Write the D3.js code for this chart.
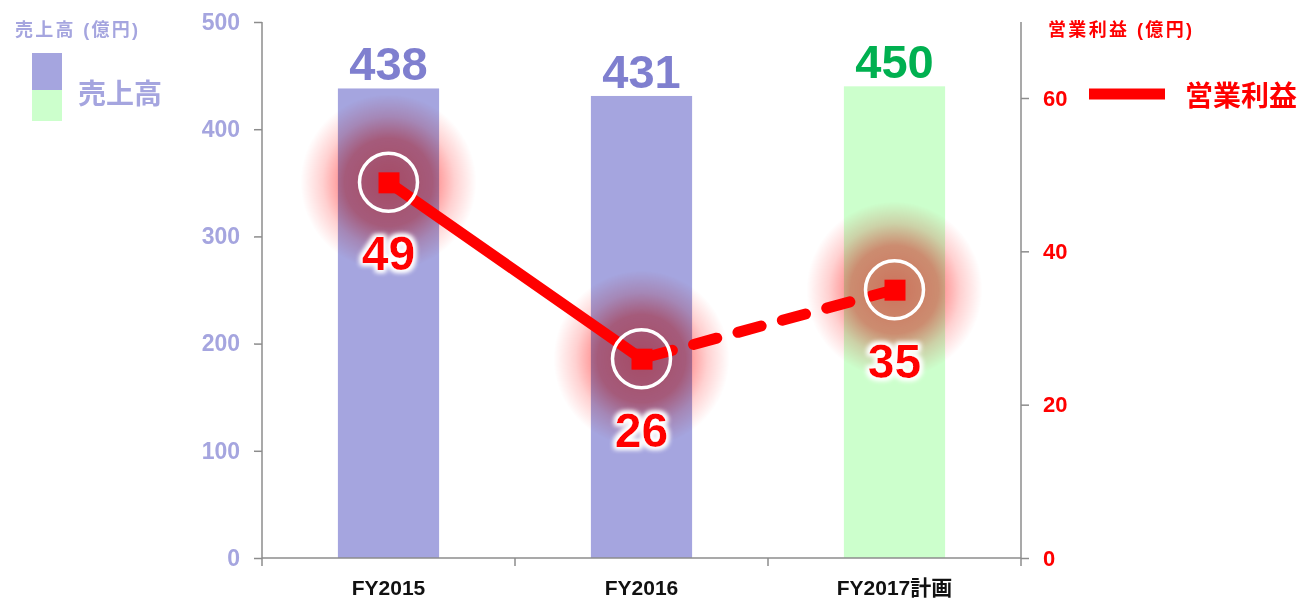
<!DOCTYPE html>
<html><head><meta charset="utf-8">
<script src="https://cdn.jsdelivr.net/npm/d3@7"></script>
<style>body{margin:0;background:#fff;}svg{display:block;font-family:Arial,"Liberation Sans","Noto Sans CJK JP",sans-serif;}</style>
</head><body><svg id="c" width="1297" height="599"></svg>
<script>
const categories = ["FY2015", "FY2016", "FY2017計画"];
const salesValues = [438, 431, 440];
const salesLabels = ["438", "431", "450"];
const profitValues = [49, 26, 35];
const leftTicks = [0, 100, 200, 300, 400, 500];
const rightTicks = [0, 20, 40, 60];

const svg = d3.select("#c");
const x0 = 262, x1 = 1021, yTop = 22, yBot = 558;
const x = d3.scaleBand().domain(categories).range([x0, x1]).paddingInner(0.6).paddingOuter(0.3);
const xc = d => x(d) + x.bandwidth() / 2;
const yL = d3.scaleLinear().domain([0, 500]).range([yBot, yTop]);
const yR = d3.scaleLinear().domain([0, 70]).range([yBot, yBot - 70 * (460 / 60)]);

const purple = "#a5a5df", green = "#ccffcc", red = "#ff0000";
const barColors = [purple, purple, green];
const labelColors = ["#7f7fcf", "#7f7fcf", "#00b050"];

const defs = svg.append("defs");
const rg = defs.append("radialGradient").attr("id", "glow");
rg.append("stop").attr("offset", "0%").attr("stop-color", red).attr("stop-opacity", 0.55);
rg.append("stop").attr("offset", "50%").attr("stop-color", red).attr("stop-opacity", 0.45);
rg.append("stop").attr("offset", "75%").attr("stop-color", red).attr("stop-opacity", 0.18);
rg.append("stop").attr("offset", "100%").attr("stop-color", red).attr("stop-opacity", 0);
const f = defs.append("filter").attr("id", "wglow").attr("x", "-30%").attr("y", "-30%").attr("width", "160%").attr("height", "160%");
f.append("feMorphology").attr("in", "SourceAlpha").attr("operator", "dilate").attr("radius", 2).attr("result", "d");
f.append("feGaussianBlur").attr("in", "d").attr("stdDeviation", 2.5).attr("result", "b");
f.append("feFlood").attr("flood-color", "#fff");
f.append("feComposite").attr("in2", "b").attr("operator", "in").attr("result", "w");
const m = f.append("feMerge");
m.append("feMergeNode").attr("in", "w");
m.append("feMergeNode").attr("in", "w");
m.append("feMergeNode").attr("in", "SourceGraphic");

// bars
svg.selectAll("rect.bar").data(categories).join("rect").attr("class", "bar")
  .attr("x", d => x(d)).attr("width", x.bandwidth())
  .attr("y", (d, i) => yL(salesValues[i])).attr("height", (d, i) => yBot - yL(salesValues[i]))
  .attr("fill", (d, i) => barColors[i]);

// bar labels
svg.selectAll("text.bl").data(categories).join("text").attr("class", "bl")
  .attr("x", xc).attr("y", (d, i) => yL(salesValues[i]) - 8)
  .attr("text-anchor", "middle").attr("font-size", 47).attr("font-weight", "bold")
  .attr("fill", (d, i) => labelColors[i]).text((d, i) => salesLabels[i]);

// left axis
const gL = svg.append("g").attr("transform", `translate(${x0},0)`)
  .call(d3.axisLeft(yL).tickValues(leftTicks).tickSize(8).tickPadding(14));
gL.select(".domain").attr("stroke", "#8c8c8c").attr("stroke-width", 1.5).attr("d", `M-0,${yTop}H0V${yBot}`);
gL.selectAll(".tick line").attr("stroke", "#8c8c8c").attr("stroke-width", 1.5);
gL.selectAll(".tick text").attr("fill", "#a5a5df").attr("font-size", 23).attr("font-weight", "bold").attr("font-family", "Arial,'Liberation Sans'");

// right axis
const gR = svg.append("g").attr("transform", `translate(${x1},0)`)
  .call(d3.axisRight(yR).tickValues(rightTicks).tickSize(8).tickPadding(14));
gR.select(".domain").attr("stroke", "#8c8c8c").attr("stroke-width", 1.5).attr("d", `M0,${yTop}H0V${yBot}`);
gR.selectAll(".tick line").attr("stroke", "#8c8c8c").attr("stroke-width", 1.5);
gR.selectAll(".tick text").attr("fill", red).attr("font-size", 22).attr("font-weight", "bold").attr("font-family", "Arial,'Liberation Sans'");

// x axis
const xTickPos = d3.range(categories.length + 1).map(i => x0 + i * (x1 - x0) / categories.length);
const gX = svg.append("g");
gX.append("line").attr("x1", x0).attr("x2", x1).attr("y1", yBot).attr("y2", yBot).attr("stroke", "#8c8c8c").attr("stroke-width", 1.5);
gX.selectAll("line.t").data(xTickPos).join("line").attr("class", "t")
  .attr("x1", d => d).attr("x2", d => d).attr("y1", yBot).attr("y2", yBot + 8)
  .attr("stroke", "#8c8c8c").attr("stroke-width", 1.5);
gX.selectAll("text").data(categories).join("text")
  .attr("x", xc).attr("y", 595).attr("text-anchor", "middle")
  .attr("font-size", 21).attr("font-weight", "bold").attr("fill", "#111").text(d => d);

// glows
svg.selectAll("circle.glow").data(categories).join("circle").attr("class", "glow")
  .attr("cx", xc).attr("cy", (d, i) => yR(profitValues[i])).attr("r", 88)
  .attr("fill", "url(#glow)").style("mix-blend-mode", "multiply");

// line
const pts = categories.map((d, i) => [xc(d), yR(profitValues[i])]);
svg.append("path").attr("d", d3.line()([pts[0], pts[1]]))
  .attr("stroke", red).attr("stroke-width", 11).attr("fill", "none").attr("stroke-linecap", "round");
svg.append("path").attr("d", d3.line()([pts[1], pts[2]]))
  .attr("stroke", red).attr("stroke-width", 11).attr("fill", "none")
  .attr("stroke-linecap", "round").attr("stroke-dasharray", "24,22").attr("stroke-dashoffset", -8);

// markers
svg.selectAll("rect.mk").data(pts).join("rect").attr("class", "mk")
  .attr("x", d => d[0] - 10).attr("y", d => d[1] - 10).attr("width", 21).attr("height", 21).attr("fill", red);

// white rings
svg.selectAll("circle.ring").data(pts).join("circle").attr("class", "ring")
  .attr("cx", d => d[0]).attr("cy", d => d[1]).attr("r", 29)
  .attr("fill", "none").attr("stroke", "#fff").attr("stroke-width", 3.5);

// profit labels
svg.selectAll("text.pl").data(categories).join("text").attr("class", "pl")
  .attr("x", xc).attr("y", (d, i) => yR(profitValues[i]) + 88)
  .attr("text-anchor", "middle").attr("font-size", 48).attr("font-weight", "bold")
  .attr("fill", red).attr("filter", "url(#wglow)").text((d, i) => profitValues[i]);

// left legend
svg.append("text").attr("x", 15).attr("y", 36).attr("font-size", 18).attr("font-weight", "bold")
  .attr("fill", "#a5a5df").attr("textLength", 123).attr("lengthAdjust", "spacing").text("売上高 (億円)");
svg.append("rect").attr("x", 32).attr("y", 53).attr("width", 30).attr("height", 37).attr("fill", purple);
svg.append("rect").attr("x", 32).attr("y", 90).attr("width", 30).attr("height", 31).attr("fill", green);
svg.append("text").attr("x", 78).attr("y", 104).attr("font-size", 28).attr("font-weight", "bold")
  .attr("fill", "#a5a5df").text("売上高");

// right legend
svg.append("text").attr("x", 1048).attr("y", 36).attr("font-size", 18).attr("font-weight", "bold")
  .attr("fill", red).attr("textLength", 144).attr("lengthAdjust", "spacing").text("営業利益 (億円)");
svg.append("line").attr("x1", 1089).attr("x2", 1165).attr("y1", 94).attr("y2", 94)
  .attr("stroke", red).attr("stroke-width", 11);
svg.append("text").attr("x", 1185).attr("y", 106).attr("font-size", 28).attr("font-weight", "bold")
  .attr("fill", red).text("営業利益");
</script></body></html>
